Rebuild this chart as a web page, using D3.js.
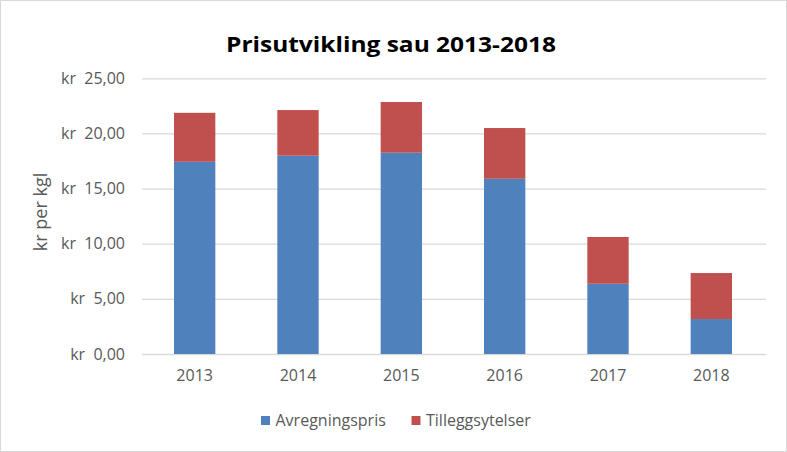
<!DOCTYPE html>
<html>
<head>
<meta charset="utf-8">
<script src="https://cdn.jsdelivr.net/npm/d3@7"></script>
<style>
  html, body { margin: 0; padding: 0; background: #fff; }
  svg { display: block; }
  text { font-family: "Open Sans", "DejaVu Sans", sans-serif; }
</style>
</head>
<body>
<svg id="chart" width="787" height="452"></svg>
<script>
// ---- data ----
const years = ["2013", "2014", "2015", "2016", "2017", "2018"];
const avregningspris = [17.43, 17.98, 18.25, 15.89, 6.37, 3.17];
const tilleggsytelser = [4.44, 4.14, 4.60, 4.60, 4.24, 4.17];
const seriesNames = ["Avregningspris", "Tilleggsytelser"];
const yTicks = [0, 5, 10, 15, 20, 25];
const title = "Prisutvikling sau 2013-2018";
const yTitle = "kr per kgl";

// ---- layout ----
const W = 787, H = 452;
const m = { left: 142, right: 21, top: 78.3, bottom: 98 };
const pw = W - m.left - m.right, ph = H - m.top - m.bottom;
const colors = ["#4F81BD", "#C0504D"];

const svg = d3.select("#chart");
svg.append("rect").attr("x", 0.5).attr("y", 0.5).attr("width", W - 1).attr("height", H - 1)
  .attr("fill", "#fff").attr("stroke", "#D9D9D9").attr("stroke-width", 1);

const rows = years.map((y, i) => ({ year: y, Avregningspris: avregningspris[i], Tilleggsytelser: tilleggsytelser[i] }));
const stacked = d3.stack().keys(seriesNames)(rows);

const x = d3.scaleBand().domain(years).range([1, 621]).paddingInner(0.6).paddingOuter(0.3);
const y = d3.scaleLinear().domain([0, 25]).range([ph, 0]);

const g = svg.append("g").attr("transform", `translate(${m.left},${m.top})`);

// gridlines + y labels
const yAxis = g.append("g").call(
  d3.axisLeft(y).tickValues(yTicks).tickSize(-pw).tickPadding(17)
    .tickFormat(d => "kr  " + d3.format(",.2f")(d).replace(".", ","))
);
yAxis.select(".domain").remove();
yAxis.selectAll("line").attr("stroke", "#D9D9D9").attr("stroke-width", 1.3);
yAxis.selectAll("text").attr("fill", "#595959").style("font-size", "16px")
  .style("white-space", "pre").attr("xml:space", "preserve");

// bars
g.selectAll("g.series").data(stacked).join("g").attr("class", "series")
  .attr("fill", (d, i) => colors[i])
  .selectAll("rect").data(d => d).join("rect")
  .attr("x", d => x(d.data.year))
  .attr("width", x.bandwidth())
  .attr("y", d => y(d[1]))
  .attr("height", d => y(d[0]) - y(d[1]));

// x axis labels
const xAxis = g.append("g").attr("transform", `translate(0,${ph})`)
  .call(d3.axisBottom(x).tickSize(0).tickPadding(16));
xAxis.select(".domain").remove();
xAxis.selectAll("text").attr("fill", "#595959").style("font-size", "16px");

// title
svg.append("text").attr("x", 391).attr("y", 52).attr("text-anchor", "middle")
  .style("font-size", "21px").style("font-weight", "bold").attr("fill", "#000")
  .attr("textLength", 330).attr("lengthAdjust", "spacingAndGlyphs")
  .text(title);

// y title
svg.append("text").attr("transform", "translate(47,212) rotate(-90)")
  .attr("text-anchor", "middle").style("font-size", "18px").attr("fill", "#595959")
  .text(yTitle);

// legend
const legendX = [261, 411.5];
const leg = svg.append("g");
seriesNames.forEach((name, i) => {
  leg.append("rect").attr("x", legendX[i]).attr("y", 416).attr("width", 9).attr("height", 9)
    .attr("fill", colors[i]);
  leg.append("text").attr("x", legendX[i] + 14.5).attr("y", 426)
    .style("font-size", "16px").attr("fill", "#595959").text(name);
});
</script>
</body>
</html>
